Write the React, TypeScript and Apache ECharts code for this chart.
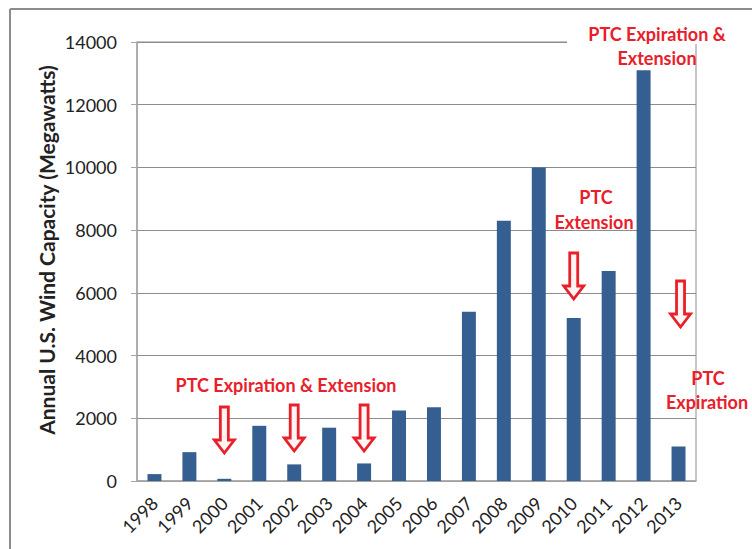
import React, { useEffect, useRef } from "react";
import * as echarts from "echarts";

const years = ["1998","1999","2000","2001","2002","2003","2004","2005","2006","2007","2008","2009","2010","2011","2012","2013"];
const capacity = [220, 920, 70, 1760, 530, 1700, 560, 2250, 2350, 5400, 8300, 10000, 5200, 6700, 13100, 1100];
const yTicks = { min: 0, max: 14000, interval: 2000 };
const arrowYears = ["2000", "2002", "2004", "2010", "2013"];

const RED = "#e8202a";
const FONT = "Lato, 'Open Sans', sans-serif";

function arrowPoints(cx: number, y0: number): number[][] {
  const sw = 4, hw = 10, shaft = 33, total = 46;
  return [
    [cx - sw, y0], [cx + sw, y0], [cx + sw, y0 + shaft], [cx + hw, y0 + shaft],
    [cx, y0 + total], [cx - hw, y0 + shaft], [cx - sw, y0 + shaft],
  ];
}

export default function App() {
  const ref = useRef<HTMLDivElement>(null);
  useEffect(() => {
    if (!ref.current) return;
    const chart = echarts.init(ref.current, undefined, { renderer: "svg" });
    chart.setOption({
      animation: false,
      backgroundColor: "#fff",
      grid: { left: 137, right: 56, top: 42, bottom: 68, containLabel: false, outerBoundsMode: "none", show: true, borderColor: "#8c8c8c", borderWidth: 1 },
      xAxis: {
        type: "category",
        data: years,
        axisLine: { lineStyle: { color: "#a6a6a6", width: 1.5 } },
        axisTick: { show: false },
        axisLabel: { rotate: 45, fontSize: 18, color: "#222", fontFamily: FONT, margin: 19, interval: 0 },
      },
      yAxis: {
        type: "value",
        ...yTicks,
        axisLine: { show: true, lineStyle: { color: "#a6a6a6", width: 1.5 } },
        axisTick: { show: true, length: 6, lineStyle: { color: "#a6a6a6" } },
        axisLabel: { fontSize: 18, color: "#222", fontFamily: FONT, margin: 20, formatter: (v: number) => String(v) },
        splitLine: { lineStyle: { color: "#8c8c8c", width: 1 } },
      },
      series: [{
        type: "bar",
        data: capacity,
        barWidth: "40%",
        itemStyle: { color: "#365f91" },
      }],
    });

    const arrowTops: Record<string, number> = { "2000": 407, "2002": 405, "2004": 405, "2010": 253, "2013": 281 };
    const arrows = arrowYears.map((y) => {
      const px = chart.convertToPixel({ xAxisIndex: 0 }, y) as number;
      return {
        type: "polygon",
        z: 100,
        shape: { points: arrowPoints(px + (y === "2013" ? 2 : 0), arrowTops[y]) },
        style: { fill: "#fff4f4", stroke: RED, lineWidth: 2.8 },
      };
    });

    const txt = (text: string, x: number, y: number, size = 18) => ({
      type: "text", z: 101, x, y,
      style: { text, fill: RED, font: `bold ${size}px ${FONT}`, textAlign: "center", textVerticalAlign: "middle" },
    });

    chart.setOption({
      graphic: [
        { type: "line", z: 100, shape: { x1: 10, y1: 9, x2: 752, y2: 9 }, style: { stroke: "#8c8c8c", lineWidth: 2 } },
        { type: "line", z: 100, shape: { x1: 10, y1: 9, x2: 10, y2: 549 }, style: { stroke: "#8c8c8c", lineWidth: 2 } },
        { type: "rect", z: 99, shape: { x: 567, y: 22, width: 128, height: 28 }, style: { fill: "#fff" } },
        { type: "rect", z: 99, shape: { x: 567, y: 22, width: 185, height: 22 }, style: { fill: "#fff" } },
        {
          type: "text", z: 101, x: 46, y: 250, rotation: Math.PI / 2,
          style: { text: "Annual U.S. Wind Capacity (Megawatts)", fill: "#222", font: `bold 21px ${FONT}`, textAlign: "center", textVerticalAlign: "middle" },
        },
        txt("PTC Expiration & Extension", 286, 385),
        txt("PTC", 596, 197),
        txt("Extension", 594, 222),
        txt("PTC Expiration &", 657, 34),
        txt("Extension", 657, 58),
        txt("PTC", 708, 378),
        txt("Expiration", 707, 402),
        ...arrows,
      ],
    });
    return () => chart.dispose();
  }, []);
  return <div ref={ref} style={{ width: 752, height: 549, position: "absolute", left: 0, top: 0 }} />;
}
